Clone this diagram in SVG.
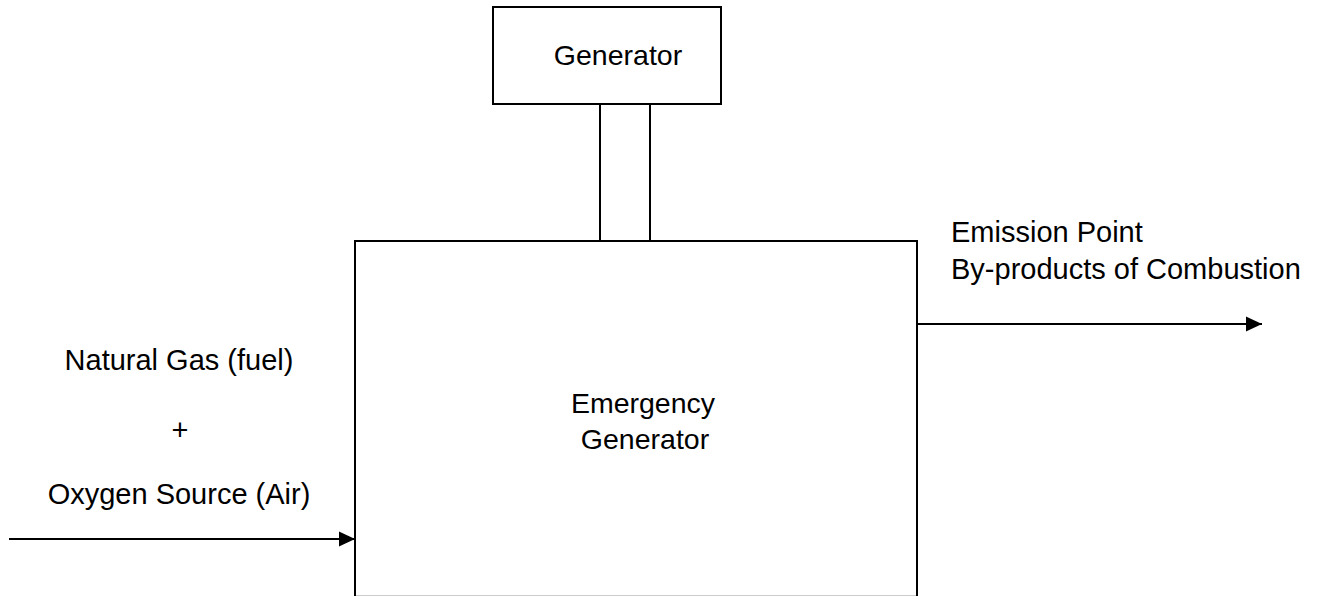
<svg xmlns="http://www.w3.org/2000/svg" width="1321" height="596" viewBox="0 0 1321 596">
<style>
.box{fill:#fff;stroke:#000;stroke-width:2}
.lbl{font-family:"Liberation Sans",Arial,sans-serif;font-size:28.5px;fill:#000}
.side{font-size:29px}
.c{text-anchor:middle}
.conn{stroke:#000;stroke-width:2;fill:none}
</style>
<defs>
<marker id="ah" markerUnits="userSpaceOnUse" markerWidth="16" markerHeight="16" viewBox="0 0 16 16" refX="16" refY="8" orient="auto">
<path d="M0,0.5 L16,8 L0,15.5 Z" fill="#000"/>
</marker>
</defs>
<rect width="1321" height="596" fill="#fff"/>
<g id="generator">
<rect class="box" x="493" y="7" width="228" height="97"/>
<text class="lbl c" x="618" y="65">Generator</text>
</g>
<g id="shaft">
<rect class="box" x="600" y="104" width="50" height="137"/>
</g>
<g id="emergency-generator">
<rect class="box" x="355" y="241" width="562" height="355.8"/>
<text class="lbl c" x="643" y="413">Emergency</text>
<text class="lbl c" x="645" y="449">Generator</text>
</g>
<g id="inputs">
<text class="lbl side c" x="179" y="370">Natural Gas (fuel)</text>
<text class="lbl side c" x="180" y="440">+</text>
<text class="lbl side c" x="179" y="504">Oxygen Source (Air)</text>
</g>
<g id="emission">
<text class="lbl side" x="951" y="242">Emission Point</text>
<text class="lbl side" x="951" y="279">By-products of Combustion</text>
</g>
<g id="connectors">
<line class="conn" x1="9" y1="539" x2="355" y2="539" marker-end="url(#ah)"/>
<line class="conn" x1="918" y1="324" x2="1262" y2="324" marker-end="url(#ah)"/>
</g>
</svg>
